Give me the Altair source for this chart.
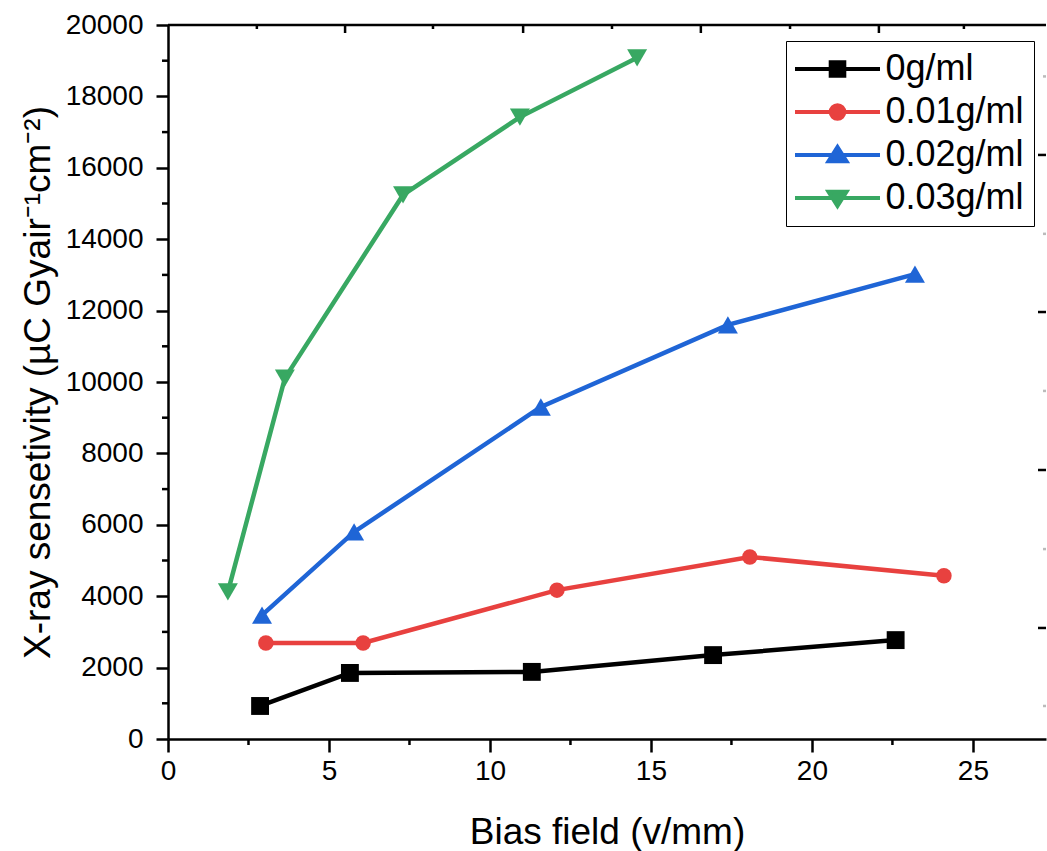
import altair as alt
import pandas as pd

# ---------------- data ----------------
series = ["0g/ml", "0.01g/ml", "0.02g/ml", "0.03g/ml"]
colors = ["#000000", "#e8413f", "#1f65d6", "#38a862"]
shapes = ["square", "circle", "triangle-up", "triangle-down"]
marker_sizes = [320, 240, 400, 400]

x_0 = [2.86, 5.65, 11.30, 16.93, 22.60]
y_0 = [925, 1850, 1880, 2350, 2770]
x_1 = [3.04, 6.06, 12.08, 18.07, 24.10]
y_1 = [2690, 2690, 4170, 5100, 4570]
x_2 = [2.92, 5.78, 11.58, 17.39, 23.20]
y_2 = [3470, 5800, 9300, 11600, 13020]
x_3 = [1.86, 3.63, 7.30, 10.93, 14.57]
y_3 = [4120, 10110, 15240, 17420, 19080]

x_ticks = [0, 5, 10, 15, 20, 25]
x_minor = [2.5, 7.5, 12.5, 17.5, 22.5]
y_ticks = [0, 2000, 4000, 6000, 8000, 10000, 12000, 14000, 16000, 18000, 20000]
y_minor = [1000, 3000, 5000, 7000, 9000, 11000, 13000, 15000, 17000, 19000]
top_major = [5.50, 11.03, 16.55, 22.08]
top_minor = [2.76, 8.23, 13.79, 19.32, 24.72]
right_major = [3110, 7535, 11960, 16360]
right_minor = [925, 5320, 9750, 14150, 18560]

x_title = "Bias field (v/mm)"
y_title = "X-ray sensetivity (µC Gyair⁻¹cm⁻²)"

# legend symbols: a line with the marker on it
legend_paths = [
    "M-4.25,0H4.25M-0.68,-0.68H0.68V0.68H-0.68Z",
    "M-4.25,0H4.25M-0.68,0A0.68,0.68,0,1,0,0.68,0A0.68,0.68,0,1,0,-0.68,0Z",
    "M-4.25,0H4.25M0,-0.8L0.9,0.62L-0.9,0.62Z",
    "M-4.25,0H4.25M0,0.8L0.9,-0.62L-0.9,-0.62Z",
]

rows = []
for s, xs, ys in zip(series, [x_0, x_1, x_2, x_3], [y_0, y_1, y_2, y_3]):
    for xv, yv in zip(xs, ys):
        rows.append({"series": s, "x": xv, "y": yv})
df = pd.DataFrame(rows)

W, H = 878, 714
FONT = "Liberation Sans"

xscale = alt.Scale(domain=[0, 27.27], nice=False, zero=False)
yscale = alt.Scale(domain=[0, 20000], nice=False, zero=False)

xaxis = alt.Axis(values=x_ticks, title=x_title, grid=False, tickSize=13, tickWidth=2.5,
                 tickColor="black", domainColor="black", domainWidth=2.5,
                 labelFontSize=28, labelPadding=5, labelColor="black",
                 titleFontSize=37, titleFontWeight="normal", titleColor="black",
                 titlePadding=29, labelFlush=False, format="d")
yaxis = alt.Axis(values=y_ticks, title=y_title, grid=False, tickSize=12, tickWidth=2.5,
                 tickColor="black", domainColor="black", domainWidth=2.5,
                 labelFontSize=28, labelPadding=13, labelColor="black",
                 titleFontSize=37, titleFontWeight="normal", titleColor="black",
                 titlePadding=8, labelFlush=False, format="d")

X = alt.X("x:Q", scale=xscale, axis=xaxis)
Y = alt.Y("y:Q", scale=yscale, axis=yaxis)

base = alt.Chart(df)

leg = alt.Legend(orient="none", legendX=618, legendY=16, title=None,
                 labelFontSize=36, labelFont=FONT, labelColor="black",
                 symbolSize=400, symbolStrokeWidth=4, symbolOffset=23.5,
                 labelOffset=30, padding=10, rowPadding=7,
                 strokeColor="black", fillColor="white")

legend_layer = base.transform_filter("datum.x < -100").mark_point(filled=True, opacity=1).encode(
    color=alt.Color("series:N", scale=alt.Scale(domain=series, range=colors), legend=leg),
    stroke=alt.Stroke("series:N", scale=alt.Scale(domain=series, range=colors), legend=leg),
    shape=alt.Shape("series:N", scale=alt.Scale(domain=series, range=legend_paths), legend=leg),
)

series_layers = []
for s, c, shp, sz in zip(series, colors, shapes, marker_sizes):
    sub = base.transform_filter(alt.datum.series == s)
    series_layers.append(sub.mark_line(strokeWidth=4.5, color=c).encode(x=X, y=Y))
    series_layers.append(
        sub.mark_point(shape=shp, filled=True, size=sz, opacity=1, color=c).encode(x=X, y=Y)
    )

def vals(lst):
    return alt.Data(values=[{"v": v} for v in lst])

left_minor = alt.Chart(vals(y_minor)).mark_rule(strokeWidth=2.5, color="black").encode(
    y=alt.Y("v:Q", scale=yscale, axis=yaxis), x=alt.value(-6), x2=alt.value(0))
bottom_minor = alt.Chart(vals(x_minor)).mark_rule(strokeWidth=2.5, color="black").encode(
    x=alt.X("v:Q", scale=xscale, axis=xaxis), y=alt.value(H), y2=alt.value(H + 6))
top_maj = alt.Chart(vals(top_major)).mark_rule(strokeWidth=2.5, color="black").encode(
    x=alt.X("v:Q", scale=xscale, axis=xaxis), y=alt.value(0), y2=alt.value(8))
top_min = alt.Chart(vals(top_minor)).mark_rule(strokeWidth=2.5, color="black").encode(
    x=alt.X("v:Q", scale=xscale, axis=xaxis), y=alt.value(0), y2=alt.value(4))
right_maj = alt.Chart(vals(right_major)).mark_rule(strokeWidth=2.5, color="black").encode(
    y=alt.Y("v:Q", scale=yscale, axis=yaxis), x=alt.value(W - 8), x2=alt.value(W))
right_min = alt.Chart(vals(right_minor)).mark_rule(strokeWidth=2.5, color="#bbbbbb").encode(
    y=alt.Y("v:Q", scale=yscale, axis=yaxis), x=alt.value(W - 3), x2=alt.value(W))
top_border = alt.Chart(alt.Data(values=[{}])).mark_rule(strokeWidth=2.5, color="black").encode(
    x=alt.value(0), x2=alt.value(W), y=alt.value(0))

chart = alt.layer(
    legend_layer, left_minor, bottom_minor, top_maj, top_min, right_maj, right_min, top_border,
    *series_layers
).properties(
    width=W, height=H,
    autosize=alt.AutoSizeParams(type="none"),
    padding={"left": 168, "top": 25, "right": 1, "bottom": 112},
    background="white",
).configure_view(stroke=None).configure_axis(
    labelFont=FONT, titleFont=FONT
).configure_legend(labelFont=FONT)

chart.save("out.html", embed_options={"renderer": "svg", "actions": False})
